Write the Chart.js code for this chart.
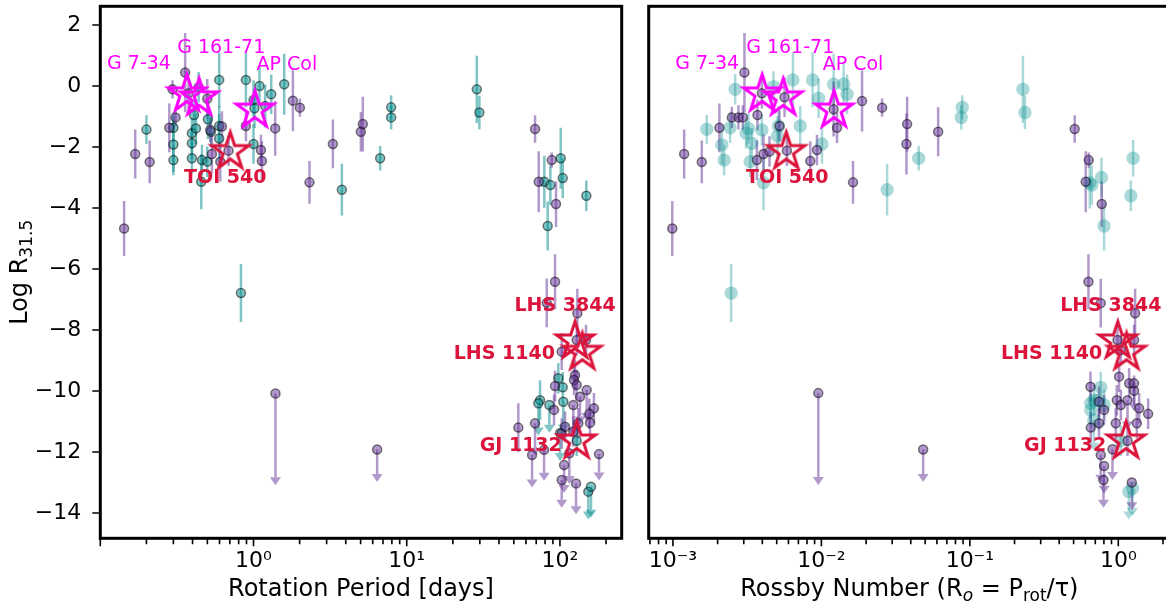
<!DOCTYPE html>
<html><head><meta charset="utf-8">
<script src="https://cdn.jsdelivr.net/npm/chart.js@4"></script>
<style>
html,body{margin:0;padding:0;background:#fff;width:1166px;height:603px;overflow:hidden;position:relative;}
#w1{position:absolute;left:0;top:0;width:640px;height:603px;}
#w2{position:absolute;left:640px;top:0;width:535px;height:603px;}
</style></head><body>
<div id="w1"><canvas id="c1" width="640" height="603"></canvas></div>
<div id="w2"><canvas id="c2" width="535" height="603"></canvas></div>
<script>
// ---------------- DATA ----------------
// [x, log R31.5, error half-length (or arrow length for upper limits)]
const yTickValues = [-14,-12,-10,-8,-6,-4,-2,0,2];
const periodTicks = [1,10,100];
const rossbyTicks = [0.001,0.01,0.1,1];

const periodPurple = [[0.143,-4.67,0.9],[0.169,-2.23,0.8],[0.21,-2.49,0.7],[0.282,-1.37,0.8],[0.296,-0.11,0.3],[0.31,-1.03,0.3],[0.358,0.44,1.3],[0.377,-0.24,0.5],[0.499,-0.42,0.65],[0.522,-1.44,0.4],[0.535,-2.23,0.65],[0.607,-2.48,0.65],[0.622,-1.33,0.5],[0.687,-2.12,0.5],[0.892,-1.31,0.5],[1.118,-2.1,0.5],[1.134,-2.46,0.65],[1.385,-1.39,0.9],[1.807,-0.48,1.0],[2.008,-0.71,0.3],[2.319,-3.16,0.7],[3.296,-1.9,0.8],[5.02,-1.5,0.65],[5.17,-1.25,0.9],[68.8,-1.41,0.45],[72.7,-3.14,1.0],[88.4,-2.43,0.25],[94.3,-3.87,0.75],[92.9,-6.42,0.9],[82.0,-7.11,0.8],[129.9,-7.45,0.8],[53.5,-11.2,0.8],[128.7,-8.33,0.5],[148,-8.33,0.5],[102.7,-8.71,0.6],[125.5,-9.48,0.5],[123.6,-9.64,0.5],[128.7,-9.8,0.5],[92.9,-9.84,0.5],[166.7,-10.57,0.5],[155.5,-10.75,0.5],[157.2,-11.04,0.5],[131.8,-11.06,0.5],[122.3,-11.33,0.5],[102.7,-11.39,0.5],[108,-11.17,0.5],[91.5,-10.62,0.5]];
const periodPurpleLimits = [[1.391,-10.08,2.75],[6.41,-11.92,0.8],[68.8,-11.06,0.8],[65.8,-12.1,0.8],[78.8,-11.93,0.75],[102.7,-12.92,0.65],[127.4,-13.03,0.75],[179.9,-12.07,0.6],[106.4,-12.43,0.65],[115.2,-12.04,0.75],[122.3,-10.46,0.75],[135.2,-10.19,0.65],[149.5,-9.97,0.75]];
const periodTeal = [[0.2,-1.43,0.47],[0.3,-1.37,0.5],[0.3,-1.92,0.9],[0.3,-2.43,0.5],[0.396,-1.55,0.5],[0.396,-1.88,0.5],[0.396,-2.37,0.5],[0.409,-0.95,0.5],[0.421,-1.39,0.5],[0.438,-0.04,0.5],[0.461,-2.43,0.5],[0.456,-3.14,0.9],[0.499,-2.48,0.5],[0.504,-1.09,0.65],[0.527,-1.5,0.5],[0.597,0.2,0.9],[0.597,-1.31,0.65],[0.597,-1.72,0.8],[0.892,0.2,0.9],[1.0,-0.46,0.65],[1.015,-0.73,0.65],[1.0,-1.9,0.65],[1.094,0.0,0.65],[1.192,-0.66,0.7],[1.305,-0.27,0.65],[1.586,0.06,1.0],[0.828,-6.79,0.95],[3.773,-3.4,0.85],[6.707,-2.37,0.4],[7.91,-0.7,0.4],[7.91,-1.03,0.4],[28.67,-0.11,1.1],[29.8,-0.87,0.55],[79.1,-3.14,0.85],[86.6,-3.25,0.65],[101.2,-2.37,1.0],[104.3,-3.02,0.65],[83.2,-4.59,0.8],[148.7,-3.6,0.5],[97.6,-9.58,0.5],[104.3,-9.88,0.5],[74.2,-10.3,0.65],[128.7,-11.63,0.5]];
const periodTealLimits = [[72.3,-10.4,0.8],[85.3,-10.46,0.65],[105.2,-10.35,0.75],[153.2,-13.3,0.65],[159.5,-13.14,0.75],[100.2,-11.38,0.65]];

const rossbyPurple = [[0.00099,-4.67,0.9],[0.00119,-2.23,0.8],[0.001564,-2.49,0.7],[0.002056,-1.37,0.8],[0.002493,-1.03,0.35],[0.002762,-1.03,0.4],[0.002958,-1.03,0.4],[0.003032,0.44,1.3],[0.003974,-0.24,0.5],[0.003711,-0.95,0.5],[0.005646,-0.37,0.65],[0.005222,-1.31,0.5],[0.003677,-2.43,0.65],[0.004074,-2.23,0.65],[0.004472,-2.15,0.5],[0.005859,-2.12,0.5],[0.008417,-2.46,0.65],[0.009339,-2.1,0.5],[0.01209,-0.76,0.9],[0.01274,-1.37,0.5],[0.01879,-0.49,1.0],[0.02564,-0.71,0.3],[0.01633,-3.16,0.7],[0.03781,-1.25,0.9],[0.0374,-1.9,1.0],[0.06118,-1.5,0.8],[0.5086,-1.41,0.45],[0.6323,-2.43,0.25],[0.6035,-3.14,1.0],[0.774,-3.87,0.75],[0.6294,-6.42,0.9],[0.7619,-7.12,0.8],[1.298,-7.45,0.8],[0.6494,-9.86,0.5],[0.7419,-10.35,0.5],[0.8022,-10.62,0.5],[0.6524,-11.2,0.5],[0.7419,-11.06,0.5],[1.012,-9.53,0.5],[1.183,-9.75,0.5],[1.278,-9.99,0.5],[0.977,-10.3,0.5],[1.04,-10.46,0.5],[1.382,-10.57,0.5],[1.589,-10.75,0.5],[1.333,-11.06,0.5],[0.962,-11.06,0.5],[1.154,-11.63,0.5],[0.9876,-8.33,0.5],[1.278,-8.33,0.5],[1.04,-8.66,0.5]];
const rossbyPurpleLimits = [[0.009531,-10.07,2.75],[0.04847,-11.92,0.8],[0.7619,-12.1,0.65],[0.8022,-12.46,0.65],[0.7946,-12.92,0.65],[1.233,-13.0,0.65],[0.9138,-11.91,0.75],[1.278,-9.75,0.65],[1.154,-10.3,0.7]];
const rossbyTeal = [[0.00169,-1.42,0.47],[0.002135,-1.93,0.65],[0.002212,-2.43,0.5],[0.002428,-1.37,0.5],[0.002624,-0.11,0.5],[0.003112,-1.55,0.5],[0.003228,-1.39,0.5],[0.003402,-1.88,0.5],[0.003313,-2.48,0.5],[0.003974,-1.44,0.5],[0.004074,-3.17,0.9],[0.004758,-0.02,0.5],[0.005063,-1.64,0.65],[0.005142,-1.31,0.65],[0.006433,0.2,0.9],[0.007205,-1.31,0.65],[0.008725,0.2,0.9],[0.009574,-0.4,0.65],[0.01009,-1.9,0.65],[0.01209,0.06,1.0],[0.01412,0.06,0.65],[0.01489,-0.27,0.65],[0.02771,-3.4,0.85],[0.04527,-2.37,0.4],[0.08886,-0.7,0.4],[0.0875,-1.03,0.4],[0.2279,-0.11,1.1],[0.235,-0.87,0.55],[0.6424,-3.17,0.85],[0.6627,-3.25,0.65],[0.7701,-3.0,0.65],[0.8022,-4.59,0.8],[1.259,-2.37,0.6],[1.214,-3.6,0.5],[0.002466,-6.79,0.95],[0.7619,-9.88,0.5],[0.6524,-10.4,0.5],[0.6868,-10.3,0.5],[0.8022,-10.46,0.5],[1.04,-11.63,0.5],[0.6524,-10.62,0.5]];
const rossbyTealLimits = [[1.247,-13.19,0.65],[1.177,-13.3,0.65],[0.7385,-10.3,0.75],[0.6835,-10.95,0.75]];

const starNames  = ['G 7-34','G 161-71','AP Col','TOI 540','LHS 3844','LHS 1140','GJ 1132'];
const starPeriod = [0.368,0.442,1.021,0.705,125.5,140,128.7];
const starRossby = [0.00399,0.00553,0.01216,0.0058,0.992,1.136,1.129];
const starLogR   = [-0.26,-0.39,-0.79,-2.15,-8.36,-8.73,-11.64];

// ---------------- STYLE ----------------
const FONT = '"DejaVu Sans"';
const MAGENTA = '#ff00ff', CRIMSON = '#dc143c';
const P_RGB = '102,51,153', T_RGB = '0,139,139';
const Y_MIN = -14.83, Y_MAX = 2.613;

function makeStar(color){
  const c = document.createElement('canvas'); c.width = 64; c.height = 64;
  const g = c.getContext('2d');
  const R = 19.5, r = R*0.381966;
  g.beginPath();
  for (let i=0;i<10;i++){
    const rad = i%2 ? r : R, ang = -Math.PI/2 + i*Math.PI/5;
    g.lineTo(32 + rad*Math.cos(ang), 32 + rad*Math.sin(ang));
  }
  g.closePath();
  g.strokeStyle = color; g.lineWidth = 3; g.lineJoin = 'miter'; g.miterLimit = 10; g.stroke();
  return c;
}
const magentaStar = makeStar(MAGENTA), redStar = makeStar(CRIMSON);

function series(normal, limits, opts){
  const all = normal.concat(limits);
  return Object.assign({
    type:'scatter',
    data: all.map(p => ({x:p[0], y:p[1]})),
    errs: all.map(p => p[2]),
    limits: all.map((p,i) => i >= normal.length)
  }, opts);
}

const SUP = {'-':'\u207B','0':'\u2070','1':'\u00B9','2':'\u00B2','3':'\u00B3'};
function powLabel(v){
  const e = Math.round(Math.log10(v));
  return '10' + String(e).split('').map(c => SUP[c]).join('');
}

const errorBarPlugin = {
  id:'errorBars',
  beforeDatasetsDraw(chart){
    const {ctx, chartArea:a} = chart; const xs = chart.scales.x, ys = chart.scales.y;
    ctx.save();
    ctx.beginPath(); ctx.rect(a.left, a.top, a.right-a.left, a.bottom-a.top); ctx.clip();
    chart.data.datasets.forEach(ds => {
      if (!ds.errs) return;
      ctx.strokeStyle = ds.barColor; ctx.fillStyle = ds.barColor; ctx.lineWidth = 2.5;
      ds.data.forEach((p,i) => {
        const px = xs.getPixelForValue(p.x), e = ds.errs[i];
        if (ds.limits[i]){
          const y0 = ys.getPixelForValue(p.y), y1 = ys.getPixelForValue(p.y - e);
          ctx.beginPath(); ctx.moveTo(px,y0); ctx.lineTo(px,y1); ctx.stroke();
          ctx.beginPath(); ctx.moveTo(px-5.5,y1); ctx.lineTo(px+5.5,y1); ctx.lineTo(px,y1+8); ctx.closePath(); ctx.fill();
        } else {
          ctx.beginPath(); ctx.moveTo(px, ys.getPixelForValue(p.y+e)); ctx.lineTo(px, ys.getPixelForValue(p.y-e)); ctx.stroke();
        }
      });
    });
    ctx.restore();
  }
};

function drawRich(ctx, segs, cx, cy, rot){
  ctx.save(); ctx.translate(cx, cy); ctx.rotate(rot);
  let total = 0;
  segs.forEach(s => { ctx.font = s.f; s.w = ctx.measureText(s.t).width; total += s.w; });
  let x = -total/2;
  ctx.textAlign = 'left'; ctx.textBaseline = 'alphabetic'; ctx.fillStyle = '#000';
  segs.forEach(s => { ctx.font = s.f; ctx.fillText(s.t, x, s.dy || 0); x += s.w; });
  ctx.restore();
}
const MAIN = '24px ' + FONT, SUBF = '17px ' + FONT, SUBI = 'italic 17px ' + FONT;

function makeFramePlugin(cfg){
  return {
    id:'frame',
    afterDraw(chart){
      const {ctx, chartArea:a} = chart; const xs = chart.scales.x, ys = chart.scales.y;
      ctx.save();
      ctx.strokeStyle = '#000'; ctx.lineWidth = 1.6;
      ctx.beginPath();
      const lo = Math.floor(Math.log10(xs.min)), hi = Math.ceil(Math.log10(xs.max));
      for (let d=lo; d<=hi; d++) for (let k=1; k<=9; k++){
        const v = k*Math.pow(10,d);
        if (v < xs.min || v > xs.max) continue;
        const px = xs.getPixelForValue(v);
        ctx.moveTo(px, a.bottom); ctx.lineTo(px, a.bottom + (k===1 ? 8 : 6));
      }
      if (cfg.showY){
        yTickValues.forEach(v => { const py = ys.getPixelForValue(v); ctx.moveTo(a.left, py); ctx.lineTo(a.left-8, py); });
      }
      ctx.stroke();
      ctx.lineWidth = 3;
      ctx.strokeRect(a.left, a.top, a.right-a.left, a.bottom-a.top);
      cfg.titles(ctx, a);
      ctx.restore();
    }
  };
}

function makeLabelPlugin(cfg){
  return {
    id:'starLabels',
    afterDatasetsDraw(chart){
      const ctx = chart.ctx; const xs = chart.scales.x, ys = chart.scales.y;
      ctx.save();
      ctx.textAlign = 'center'; ctx.textBaseline = 'middle';
      starNames.forEach((name,i) => {
        const px = xs.getPixelForValue(cfg.starX[i]) + cfg.labelOffsets[i][0];
        const py = ys.getPixelForValue(starLogR[i]) + cfg.labelOffsets[i][1];
        ctx.font = (i<3 ? '' : 'bold ') + '19px ' + FONT;
        ctx.fillStyle = i<3 ? MAGENTA : CRIMSON;
        ctx.fillText(name, px, py);
      });
      ctx.restore();
    }
  };
}

function makeChart(id, cfg){
  return new Chart(document.getElementById(id), {
    type:'scatter',
    data:{ datasets: cfg.datasets },
    options:{
      responsive:false, animation:false, events:[],
      layout:{ padding: cfg.padding, autoPadding:false },
      plugins:{ legend:{display:false}, tooltip:{enabled:false} },
      scales:{
        x:{ type:'logarithmic', min:cfg.xMin, max:cfg.xMax,
            grid:{display:false}, border:{display:false},
            afterBuildTicks: s => { s.ticks = cfg.xTicks.map(v => ({value:v})); },
            afterFit: s => { s.height = 64.7; s.paddingLeft = 0; s.paddingRight = 0; },
            ticks:{ autoSkip:false, maxRotation:0, minRotation:0, padding:2, color:'#000',
                    font:{family:'DejaVu Sans', size:22, lineHeight:1.2}, callback: v => powLabel(v) } },
        y:{ type:'linear', display:cfg.showY, min:Y_MIN, max:Y_MAX,
            grid:{display:false}, border:{display:false},
            afterBuildTicks: s => { s.ticks = yTickValues.map(v => ({value:v})); },
            afterFit: s => { s.width = cfg.showY ? 100.3 : 0; s.paddingTop = 0; s.paddingBottom = 0; },
            ticks:{ padding:11, color:'#000', font:{family:'DejaVu Sans', size:22},
                    callback: v => v < 0 ? '\u2212' + Math.abs(v) : String(v) } }
      }
    },
    plugins:[errorBarPlugin, makeFramePlugin(cfg), makeLabelPlugin(cfg)]
  });
}

const starStyles = starNames.map((_,i) => i<3 ? magentaStar : redStar);
function starSet(xArr){
  return { type:'scatter', data: xArr.map((x,i) => ({x, y:starLogR[i]})), pointStyle: starStyles, pointRadius:24, order:0 };
}
const dotBase = { pointRadius:4.5, borderWidth:1.5, borderColor:'rgba(0,0,0,0.5)' };

makeChart('c1', {
  xMin:0.1, xMax:253, xTicks:periodTicks, showY:true,
  padding:{left:0, top:6.3, right:18.3, bottom:0},
  starX: starPeriod,
  labelOffsets: [[-48,-30],[22,-50],[32,-45],[-5,26],[-10,-35],[-78,2],[-56,5]],
  datasets:[
    series(periodTeal, periodTealLimits, Object.assign({}, dotBase, {backgroundColor:`rgba(${T_RGB},0.5)`, barColor:`rgba(${T_RGB},0.5)`, order:2})),
    series(periodPurple, periodPurpleLimits, Object.assign({}, dotBase, {backgroundColor:`rgba(${P_RGB},0.5)`, barColor:`rgba(${P_RGB},0.5)`, order:1})),
    starSet(starPeriod)
  ],
  titles:(ctx, a) => {
    ctx.fillStyle = '#000'; ctx.font = MAIN; ctx.textAlign = 'center'; ctx.textBaseline = 'alphabetic';
    ctx.fillText('Rotation Period [days]', (a.left+a.right)/2, 596);
    drawRich(ctx, [{t:'Log R', f:MAIN},{t:'31.5', f:SUBF, dy:5}], 26.5, (a.top+a.bottom)/2, -Math.PI/2);
  }
});

makeChart('c2', {
  xMin:6.866e-4, xMax:2.23, xTicks:rossbyTicks, showY:false,
  padding:{left:8.7, top:6.3, right:5, bottom:0},
  starX: starRossby,
  labelOffsets: [[-55,-30],[7,-50],[19,-45],[1,26],[-7,-35],[-75,2],[-61,5]],
  datasets:[
    series(rossbyTeal, rossbyTealLimits, {pointRadius:6.7, borderWidth:0, backgroundColor:`rgba(${T_RGB},0.33)`, barColor:`rgba(${T_RGB},0.33)`, order:2}),
    series(rossbyPurple, rossbyPurpleLimits, Object.assign({}, dotBase, {backgroundColor:`rgba(${P_RGB},0.5)`, barColor:`rgba(${P_RGB},0.5)`, order:1})),
    starSet(starRossby)
  ],
  titles:(ctx, a) => {
    drawRich(ctx, [{t:'Rossby Number (R', f:MAIN},{t:'o', f:SUBI, dy:5},{t:' = P', f:MAIN},{t:'rot', f:SUBF, dy:5},{t:'/\u03C4)', f:MAIN}], (a.left+a.right)/2, 596, 0);
  }
});
</script>
</body></html>
